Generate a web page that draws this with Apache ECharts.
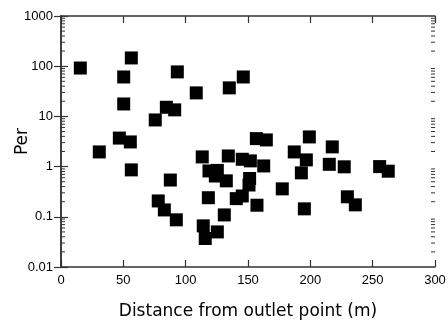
<!DOCTYPE html>
<html>
<head>
<meta charset="utf-8">
<script src="https://cdn.jsdelivr.net/npm/echarts@6/dist/echarts.min.js"></script>
<style>html,body{margin:0;padding:0;background:#fff;}#c{width:448px;height:320px;}</style>
</head>
<body>
<div id="c"></div>
<script>
const distance = [15.5, 30.7, 46.8, 50.3, 50.3, 55.6, 56.4, 56.4, 75.6, 78.0, 82.9, 84.5, 87.7, 91.2, 92.5, 93.3, 108.5, 113.3, 114.1, 115.7, 118.2, 118.7, 123.8, 125.4, 125.4, 131.0, 132.6, 134.2, 135.0, 140.6, 145.4, 145.4, 146.2, 150.8, 151.3, 151.9, 156.7, 157.2, 162.6, 164.7, 177.5, 187.1, 192.8, 195.2, 196.8, 199.2, 215.2, 217.6, 227.2, 229.7, 236.1, 255.6, 262.5];
const per = [92, 1.96, 3.7, 61, 17.7, 3.1, 146, 0.86, 8.5, 0.207, 0.137, 15.2, 0.54, 13.5, 0.087, 77, 29.4, 1.56, 0.066, 0.037, 0.24, 0.82, 0.65, 0.84, 0.050, 0.109, 0.52, 1.63, 37, 0.23, 1.40, 0.26, 61, 0.43, 0.58, 1.30, 3.61, 0.17, 1.03, 3.40, 0.36, 1.96, 0.75, 0.144, 1.36, 3.9, 1.11, 2.47, 0.99, 0.25, 0.173, 1.0, 0.81];
const xTicks = [0, 50, 100, 150, 200, 250, 300];
const yTicks = [0.01, 0.1, 1, 10, 100, 1000];
const minorMultipliers = [2, 3, 4, 5, 6, 7, 8, 9];
const xTitle = 'Distance from outlet point (m)';
const yTitle = 'Per';

const points = distance.map((d, i) => [d, per[i]]);
const minorValues = [];
yTicks.slice(0, -1).forEach(t => minorMultipliers.forEach(m => minorValues.push([xTicks[0], +(t * m).toPrecision(3)])));

const axisColor = '#333';
const labelFont = { fontFamily: 'Liberation Sans, Arial, sans-serif', fontSize: 13, color: '#000' };

const chart = echarts.init(document.getElementById('c'), null, { renderer: 'canvas' });
const baseX = {
  type: 'value', min: xTicks[0], max: xTicks[xTicks.length - 1], interval: 50,
  axisLine: { show: true, lineStyle: { color: axisColor, width: 1.5 } },
  axisTick: { show: true, inside: true, length: 7, lineStyle: { color: axisColor, width: 1.2 } },
  splitLine: { show: false }
};
const baseY = {
  type: 'log', logBase: 10, min: yTicks[0], max: yTicks[yTicks.length - 1],
  axisLine: { show: true, lineStyle: { color: axisColor, width: 1.5 } },
  axisTick: { show: true, inside: true, length: 7, lineStyle: { color: axisColor, width: 1.2 } },
  minorTick: { show: false },
  splitLine: { show: false }
};
chart.setOption({
  animation: false,
  grid: { left: 61, right: 13, top: 16, bottom: 53, containLabel: false, outerBoundsMode: 'none' },
  xAxis: [
    Object.assign({}, baseX, {
      position: 'bottom',
      axisLabel: Object.assign({ margin: 7 }, labelFont),
      name: xTitle, nameLocation: 'middle', nameGap: 36, nameMoveOverlap: false,
      nameTextStyle: { fontFamily: 'DejaVu Sans', fontSize: 17, color: '#000' }
    }),
    Object.assign({}, baseX, { position: 'top', axisLabel: { show: false } })
  ],
  yAxis: [
    Object.assign({}, baseY, {
      position: 'left',
      axisLabel: Object.assign({ margin: 8, formatter: v => String(v) }, labelFont),
      name: yTitle, nameLocation: 'middle', nameGap: 30, nameMoveOverlap: false,
      nameTextStyle: { fontFamily: 'DejaVu Sans', fontSize: 17, color: '#000' }
    }),
    Object.assign({}, baseY, { position: 'right', axisLabel: { show: false } })
  ],
  series: [{
    type: 'custom', xAxisIndex: 0, yAxisIndex: 0, silent: true,
    data: minorValues,
    renderItem: function (params, api) {
      const cs = params.coordSys;
      const y = api.coord([api.value(0), api.value(1)])[1];
      const style = { stroke: axisColor, lineWidth: 1 };
      return {
        type: 'group',
        children: [
          { type: 'line', shape: { x1: cs.x, y1: y, x2: cs.x + 4, y2: y }, style: style },
          { type: 'line', shape: { x1: cs.x + cs.width - 4, y1: y, x2: cs.x + cs.width, y2: y }, style: style }
        ]
      };
    }
  }, {
    type: 'scatter', xAxisIndex: 0, yAxisIndex: 0,
    symbol: 'rect', symbolSize: 13,
    itemStyle: { color: '#000', opacity: 1 },
    data: points
  }]
});
</script>
</body>
</html>
